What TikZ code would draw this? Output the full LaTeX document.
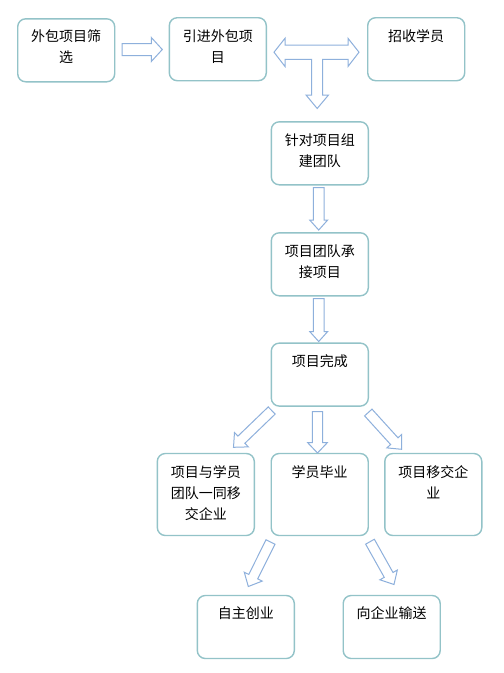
\documentclass[tikz,border=0pt]{standalone}
\usepackage{fontspec}
\setmainfont{Noto Sans CJK SC}
\usetikzlibrary{calc}
\definecolor{boxline}{HTML}{93C3C8}
\definecolor{arrline}{HTML}{8EB0DC}
\tikzset{
  flowbox/.style={draw=boxline, line width=1.4pt, rounded corners=8pt, minimum width=97pt, minimum height=63pt, inner sep=0pt, fill=white},
  tallbox/.style={flowbox, minimum height=82pt},
  boxtext/.style={anchor=north, inner sep=0pt, align=center, font=\fontsize{14pt}{21pt}\selectfont},
  barrow/.style={draw=arrline, line width=1pt, fill=white, line join=miter}
}
\newcommand\blockarr[5]{%
  \coordinate (#1-#2-hb) at ($(#2)!#5!(#1)$);
  \draw[barrow] ($(#1)!#3!90:(#2)$) -- ($(#1-#2-hb)!#3!90:(#2)$) -- ($(#1-#2-hb)!#4!90:(#2)$) -- (#2)
    -- ($(#1-#2-hb)!#4!-90:(#2)$) -- ($(#1-#2-hb)!#3!-90:(#2)$) -- ($(#1)!#3!-90:(#2)$) -- cycle;
}
\begin{document}
\begin{tikzpicture}[x=1pt,y=-1pt]
\useasboundingbox[fill=white] (0,0) rectangle (504,673);
% boxes
\node[flowbox] (b1) at (66.2,50.3) {};
\node[flowbox] (b2) at (217.8,49.2) {};
\node[flowbox] (b3) at (416.2,49.2) {};
\node[flowbox] (b4) at (319.8,153.3) {};
\node[flowbox] (b5) at (319.8,264.3) {};
\node[flowbox] (b6) at (319.8,374.6) {};
\node[tallbox] (b7) at (205.8,494.5) {};
\node[tallbox] (b8) at (319.7,494.5) {};
\node[tallbox] (b9) at (433.3,494.5) {};
\node[flowbox] (b10) at (245.8,627) {};
\node[flowbox] (b11) at (391.7,627) {};
% texts
\node[boxtext] (t1) at ([yshift=-11pt]b1.north) {外包项目筛\\选};
\node[boxtext] (t2) at ([yshift=-12pt]b2.north) {引进外包项\\目};
\node[boxtext] (t3) at ([yshift=-12pt]b3.north) {招收学员};
\node[boxtext] (t4) at ([yshift=-12pt]b4.north) {针对项目组\\建团队};
\node[boxtext] (t5) at ([yshift=-12pt]b5.north) {项目团队承\\接项目};
\node[boxtext] (t6) at ([yshift=-12pt]b6.north) {项目完成};
\node[boxtext] (t7) at ([yshift=-12.5pt]b7.north) {项目与学员\\团队一同移\\交企业};
\node[boxtext] (t8) at ([yshift=-12.5pt]b8.north) {学员毕业};
\node[boxtext] (t9) at ([yshift=-12.5pt]b9.north) {项目移交企\\业};
\node[boxtext] (t10) at ([yshift=-12pt]b10.north) {自主创业};
\node[boxtext] (t11) at ([yshift=-12pt]b11.north) {向企业输送};
% arrow end points
\coordinate (a1s) at (122,49.5);
\coordinate (a1e) at (162.3,49.5);
\coordinate (a4s) at (318.7,187.5);
\coordinate (a4e) at (318.7,230);
\coordinate (a5s) at (318.7,298.5);
\coordinate (a5e) at (318.7,341.5);
\coordinate (a6s) at (317.5,411.7);
\coordinate (a6e) at (317.5,453);
\coordinate (a7s) at (271.7,410.5);
\coordinate (a7e) at (233.5,447.3);
\coordinate (a9s) at (368.3,412.5);
\coordinate (a9e) at (401.7,449.3);
\coordinate (a10s) at (270.5,542);
\coordinate (a10e) at (248.3,586.5);
\coordinate (a11s) at (370,541.7);
\coordinate (a11e) at (394,584.5);
\blockarr{a1s}{a1e}{6pt}{12pt}{11pt}
\blockarr{a4s}{a4e}{5.3pt}{9pt}{10pt}
\blockarr{a5s}{a5e}{5.3pt}{9pt}{10pt}
\blockarr{a6s}{a6e}{5.2pt}{9.8pt}{10.3pt}
\blockarr{a7s}{a7e}{5pt}{10pt}{11pt}
\blockarr{a9s}{a9e}{5pt}{10pt}{11pt}
\blockarr{a10s}{a10e}{5pt}{10pt}{11pt}
\blockarr{a11s}{a11e}{5pt}{10pt}{11pt}
% T-shaped arrow
\draw[barrow] (274,52.2) -- (285,38.3) -- (285,45) -- (348,45) -- (348,38.3) -- (359,52.2)
  -- (348,66.5) -- (348,59.3) -- (322.7,59.3) -- (322.7,95) -- (328.5,95) -- (317.2,108.5)
  -- (306,95) -- (311.7,95) -- (311.7,59.3) -- (285,59.3) -- (285,66.5) -- cycle;
\end{tikzpicture}
\end{document}
